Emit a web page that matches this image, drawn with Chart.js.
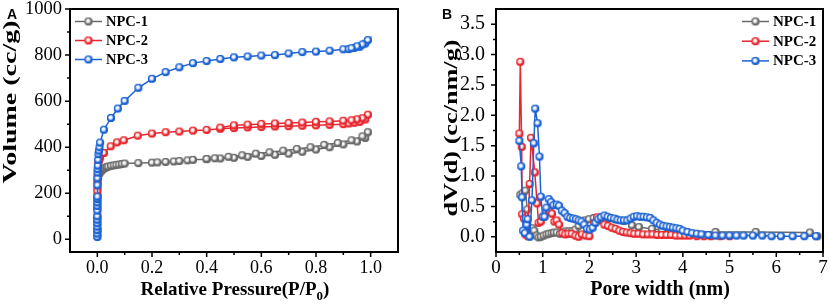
<!DOCTYPE html>
<html><head><meta charset="utf-8">
<script src="https://cdn.jsdelivr.net/npm/chart.js@4/dist/chart.umd.min.js"></script>
<style>
html,body{margin:0;padding:0;background:#fff;}
#wrap{position:relative;width:830px;height:304px;overflow:hidden;}
.box{position:absolute;top:0;width:415px;height:304px;}
canvas{display:block;}
</style></head><body>
<div id="wrap">
<div class="box" style="left:0"><canvas id="cA" width="415" height="304"></canvas></div>
<div class="box" style="left:415px"><canvas id="cB" width="415" height="304"></canvas></div>
</div>
<script>
// ---------------- DATA ----------------
const seriesNames = ['NPC-1', 'NPC-2', 'NPC-3'];

// Panel A: N2 isotherms, P/P0 vs volume (cc/g), adsorption then desorption
const isoP1 = [0.00002,0.00005,0.0001,0.0002,0.0004,0.0007,0.001,0.002,0.003,0.005,0.007,0.01,0.013,0.016,0.02,0.025,0.03,0.035,0.04,0.05,0.06,0.07,0.08,0.09,0.1,0.15,0.2,0.22,0.25,0.28,0.3,0.33,0.35,0.4,0.45,0.5,0.55,0.6,0.65,0.7,0.75,0.8,0.85,0.9,0.95,0.98,0.99,
               0.97,0.93,0.88,0.83,0.78,0.73,0.68,0.63,0.58,0.53,0.48,0.43,0.4];
const isoV1 = [40,90,140,185,220,245,262,272,278,283,287,291,296,300,304,308,311,314,316,319,321,323,325,327,329,331,333,334,336,338,340,343,345,348,351,354,358,362,367,372,380,390,400,412,425,440,465,
               447,430,418,410,400,392,385,378,372,365,358,352,349];

const isoP2 = [0.000005,0.00001,0.00002,0.00004,0.00007,0.0001,0.0002,0.0003,0.0005,0.0008,0.001,0.0015,0.002,0.003,0.005,0.008,0.01,0.024,0.049,0.072,0.097,0.148,0.2,0.25,0.3,0.35,0.4,0.45,0.5,0.55,0.6,0.65,0.7,0.75,0.8,0.85,0.9,0.92,0.94,0.96,0.98,0.99,
               0.97,0.95,0.93,0.9,0.85,0.8,0.75,0.7,0.65,0.6,0.55,0.5,0.45];
const isoV2 = [15,40,70,100,130,160,190,210,235,255,275,295,315,330,340,350,357,375,404,421,430,450,459,465,468,472,475,480,483,486,488,490,491,493,495,497,500,503,506,510,520,541,
               526,521,517,515,512,510,507,505,503,501,498,495,485];

const isoP3 = [0.000003,0.000006,0.00001,0.00002,0.00003,0.00005,0.00008,0.0001,0.00015,0.0002,0.0003,0.0004,0.0006,0.0008,0.001,0.0015,0.002,0.003,0.004,0.006,0.008,0.01,0.024,0.05,0.075,0.1,0.15,0.2,0.25,0.3,0.35,0.4,0.45,0.5,0.55,0.6,0.65,0.7,0.75,0.8,0.85,0.9,0.92,0.94,0.96,0.98,0.99,
               0.97,0.95,0.93];
const isoV3 = [10,25,40,55,70,85,100,125,145,160,175,185,235,265,290,305,320,345,370,385,400,420,476,527,568,601,658,697,726,747,765,774,783,790,794,798,800,807,813,815,819,825,826,831,836,850,865,
               846,838,830];

// Panel B: pore size distribution, pore width (nm) vs dV(d) (cc/nm/g)
const psdW1 = [0.52,0.57,0.63,0.67,0.7,0.74,0.78,0.82,0.87,0.91,0.96,1.02,1.08,1.13,1.19,1.24,1.3,1.37,1.43,1.49,1.56,1.63,1.7,1.77,1.84,1.9,1.99,2.09,2.24,2.4,2.56,2.74,2.91,3.06,3.34,3.56,4.7,5.56,6.72,6.88];
const psdV1 = [0.69,0.72,0.76,0.45,0.15,0.12,0.14,0.10,0.02,-0.01,0.0,0.02,0.04,0.05,0.06,0.07,0.07,0.05,0.07,0.09,0.09,0.09,0.12,0.18,0.24,0.27,0.29,0.31,0.32,0.31,0.29,0.26,0.19,0.16,0.13,0.11,0.08,0.08,0.07,0.01];

const psdW2 = [0.5,0.52,0.55,0.56,0.6,0.63,0.68,0.72,0.75,0.83,0.88,0.91,0.96,1.02,1.08,1.14,1.2,1.25,1.3,1.35,1.42,1.48,1.55,1.62,1.7,1.77,1.84,1.92,2.0,2.1,2.16,2.24,2.32,2.4,2.48,2.56,2.64,2.72,2.8,2.88,2.96,3.05,3.15,3.25,3.35,3.45,3.55,3.65,3.75,3.85,3.95,4.05,4.15,4.3,4.45,4.6,4.8,5.0];
const psdV2 = [1.70,2.88,1.48,0.37,0.30,0.04,0.01,0.87,1.63,1.06,0.55,0.23,0.25,0.33,0.40,0.43,0.38,0.25,0.27,0.20,0.06,0.04,0.05,0.05,0.02,0.0,0.04,0.02,0.01,0.22,0.32,0.27,0.20,0.18,0.15,0.13,0.10,0.08,0.07,0.06,0.05,0.05,0.04,0.04,0.04,0.03,0.03,0.03,0.03,0.02,0.02,0.02,0.02,0.01,0.01,0.01,0.01,0.01];

const psdW3 = [0.5,0.54,0.56,0.58,0.62,0.66,0.68,0.72,0.77,0.81,0.84,0.89,0.93,0.96,1.0,1.04,1.08,1.13,1.18,1.23,1.3,1.35,1.41,1.47,1.53,1.59,1.65,1.71,1.77,1.83,1.89,1.95,2.01,2.07,2.13,2.19,2.25,2.32,2.39,2.46,2.53,2.6,2.67,2.74,2.81,2.88,2.95,3.02,3.09,3.16,3.23,3.3,3.37,3.44,3.51,3.58,3.65,3.72,3.79,3.86,3.93,4.0,4.1,4.2,4.3,4.4,4.55,4.7,4.85,5.0,5.15,5.3,5.5,5.7,5.9,6.1,6.35,6.6,6.85];
const psdV3 = [1.58,1.16,0.65,0.10,0.06,0.20,0.29,0.0,0.60,1.54,2.11,1.87,1.32,0.66,0.33,0.33,0.48,0.62,0.57,0.52,0.53,0.51,0.43,0.39,0.33,0.31,0.30,0.29,0.27,0.25,0.20,0.13,0.12,0.15,0.23,0.29,0.32,0.35,0.33,0.31,0.30,0.28,0.27,0.27,0.27,0.30,0.33,0.34,0.33,0.33,0.32,0.31,0.27,0.23,0.20,0.18,0.17,0.16,0.15,0.14,0.13,0.10,0.08,0.06,0.05,0.04,0.03,0.02,0.02,0.02,0.02,0.02,0.02,0.02,0.01,0.01,0.01,0.01,0.01];

// tick values
const aXTicks = [0, 0.2, 0.4, 0.6, 0.8, 1.0];
const aXMinor = [0.1, 0.3, 0.5, 0.7, 0.9];
const aYTicks = [0, 200, 400, 600, 800, 1000];
const aYMinor = [100, 300, 500, 700, 900];
const bXTicks = [0, 1, 2, 3, 4, 5, 6, 7];
const bXMinor = [0.5, 1.5, 2.5, 3.5, 4.5, 5.5, 6.5];
const bYTicks = [0, 0.5, 1.0, 1.5, 2.0, 2.5, 3.0, 3.5];
const bYMinor = [0.25, 0.75, 1.25, 1.75, 2.25, 2.75, 3.25];

// ---------------- STYLE ----------------
const COLORS = ['#6a6a6a', '#e8262d', '#1b62d4'];
const SERIF = '"Liberation Serif", "Times New Roman", serif';

function ball(color, r) {
  const s = Math.ceil(2 * r + 2);
  const c = document.createElement('canvas');
  c.width = s; c.height = s;
  const g = c.getContext('2d');
  const cx = s / 2, cy = s / 2;
  g.beginPath(); g.arc(cx, cy, r, 0, Math.PI * 2); g.fillStyle = color; g.fill();
  const grd = g.createRadialGradient(cx - 0.5, cy - 0.6, 0, cx - 0.5, cy - 0.6, r * 0.8);
  grd.addColorStop(0, 'rgba(255,255,255,1)');
  grd.addColorStop(0.45, 'rgba(255,255,255,0.9)');
  grd.addColorStop(1, 'rgba(255,255,255,0)');
  g.fillStyle = grd; g.beginPath(); g.arc(cx, cy, r, 0, Math.PI * 2); g.fill();
  g.lineWidth = 1.1; g.strokeStyle = color; g.beginPath(); g.arc(cx, cy, r - 0.55, 0, Math.PI * 2); g.stroke();
  return c;
}
const BALLS = COLORS.map(c => ball(c, 4));

function pts(xs, ys) { return xs.map((v, i) => ({ x: v, y: ys[i] })); }

const framePlugin = {
  id: 'frame',
  afterDraw(chart) {
    const o = chart.options.plugins.frame;
    const { ctx, chartArea: a, scales: { x, y } } = chart;
    ctx.save();
    ctx.strokeStyle = '#000';
    ctx.lineWidth = 1.5;
    ctx.beginPath();
    o.xMajor.forEach(v => { const p = x.getPixelForValue(v); ctx.moveTo(p, a.bottom); ctx.lineTo(p, a.bottom + 5); });
    o.xMinor.forEach(v => { const p = x.getPixelForValue(v); ctx.moveTo(p, a.bottom); ctx.lineTo(p, a.bottom + 3); });
    o.yMajor.forEach(v => { const p = y.getPixelForValue(v); ctx.moveTo(a.left, p); ctx.lineTo(a.left - 5, p); });
    o.yMinor.forEach(v => { const p = y.getPixelForValue(v); ctx.moveTo(a.left, p); ctx.lineTo(a.left - 3, p); });
    ctx.stroke();
    ctx.lineWidth = 2;
    ctx.strokeRect(a.left, a.top, a.right - a.left, a.bottom - a.top);

    // legend
    const L = o.legend;
    chart.data.datasets.forEach((ds, i) => {
      const yy = L.y0 + i * L.dy;
      ctx.strokeStyle = ds.borderColor; ctx.lineWidth = 1.5;
      ctx.beginPath(); ctx.moveTo(L.x, yy); ctx.lineTo(L.x + L.len, yy); ctx.stroke();
      const img = ds.pointStyle;
      ctx.drawImage(img, L.x + L.len / 2 - img.width / 2, yy - img.height / 2);
      ctx.fillStyle = '#000'; ctx.font = L.font; ctx.textBaseline = 'middle'; ctx.textAlign = 'left';
      ctx.fillText(ds.label, L.x + L.len + L.gap, yy + 0.5);
    });

    // x title with optional subscript parts
    const T = o.xTitle;
    ctx.fillStyle = '#000'; ctx.textBaseline = 'alphabetic'; ctx.textAlign = 'left';
    let total = 0;
    T.parts.forEach(p => { ctx.font = p.sub ? T.subFont : T.font; total += ctx.measureText(p.t).width; });
    let cx = T.cx - total / 2;
    T.parts.forEach(p => {
      ctx.font = p.sub ? T.subFont : T.font;
      ctx.fillText(p.t, cx, T.base + (p.sub ? T.subDrop : 0));
      cx += ctx.measureText(p.t).width;
    });

    // y title (rotated, stretched along its length)
    const Y = o.yTitle;
    ctx.save();
    ctx.translate(Y.cx, Y.cy);
    ctx.rotate(-Math.PI / 2);
    ctx.font = Y.font;
    const w = ctx.measureText(Y.text).width;
    ctx.scale(Y.len / w, 1);
    ctx.textAlign = 'center'; ctx.textBaseline = 'middle';
    ctx.fillText(Y.text, 0, 0);
    ctx.restore();

    // panel letter
    ctx.font = o.panel.font; ctx.textAlign = 'left'; ctx.textBaseline = 'alphabetic';
    ctx.fillText(o.panel.text, o.panel.x, o.panel.y);
    ctx.restore();
  }
};

function makeChart(id, cfg) {
  return new Chart(document.getElementById(id), {
    type: 'scatter',
    data: {
      datasets: cfg.series.map((s, i) => ({
        label: seriesNames[i],
        data: pts(s[0], s[1]),
        showLine: true,
        borderColor: COLORS[i],
        backgroundColor: COLORS[i],
        borderWidth: 1.5,
        pointStyle: BALLS[i],
        pointRadius: 4,
        pointHoverRadius: 4,
        order: 3 - i,
        tension: 0
      }))
    },
    options: {
      responsive: false, animation: false, devicePixelRatio: 1,
      events: [],
      layout: { padding: cfg.padding },
      plugins: {
        legend: { display: false }, tooltip: { enabled: false },
        frame: cfg.frame
      },
      scales: {
        x: {
          type: 'linear', min: cfg.xMin, max: cfg.xMax,
          afterBuildTicks: s => { s.ticks = cfg.frame.xMajor.map(v => ({ value: v })); },
          afterFit: s => { s.height = cfg.xH; s.paddingLeft = 0; s.paddingRight = 0; },
          grid: { display: false, drawTicks: true, tickLength: 4 },
          border: { display: false },
          ticks: { padding: cfg.xPad, color: '#000', autoSkip: false, maxRotation: 0,
                   font: { family: SERIF, size: cfg.xTickSize, lineHeight: 1 },
                   callback: v => cfg.xFmt(v) }
        },
        y: {
          type: 'linear', min: cfg.yMin, max: cfg.yMax,
          afterBuildTicks: s => { s.ticks = cfg.frame.yMajor.map(v => ({ value: v })); },
          afterFit: s => { s.width = cfg.yW; s.paddingTop = 0; s.paddingBottom = 0; },
          grid: { display: false, drawTicks: true, tickLength: 4 },
          border: { display: false },
          ticks: { padding: cfg.yPad, color: '#000', autoSkip: false,
                   font: { family: SERIF, size: cfg.yTickSize, lineHeight: 1 },
                   callback: v => cfg.yFmt(v) }
        }
      }
    },
    plugins: [framePlugin]
  });
}

makeChart('cA', {
  series: [[isoP1, isoV1], [isoP2, isoV2], [isoP3, isoV3]],
  padding: { left: 0, top: 9, right: 17, bottom: 0 },
  xMin: -0.1, xMax: 1.1, yMin: -55, yMax: 1000,
  xH: 52, yW: 70, xPad: 3, yPad: 4, xTickSize: 18, yTickSize: 18.5,
  xFmt: v => v.toFixed(1), yFmt: v => String(v),
  frame: {
    xMajor: aXTicks, xMinor: aXMinor, yMajor: aYTicks, yMinor: aYMinor,
    legend: { x: 75, y0: 21.5, dy: 19, len: 27, gap: 4, font: 'bold 14.5px ' + SERIF },
    xTitle: { parts: [{ t: 'Relative Pressure(P/P' }, { t: '0', sub: true }, { t: ')' }],
              cx: 235, base: 295, font: 'bold 19px ' + SERIF, subFont: 'bold 13px ' + SERIF, subDrop: 5 },
    yTitle: { text: 'Volume (cc/g)', cx: 11, cy: 102, len: 163, font: 'bold 18px ' + SERIF },
    panel: { text: 'A', x: 7, y: 18.5, font: 'bold 14px "Liberation Sans", Arial, sans-serif' }
  }
});

makeChart('cB', {
  series: [[psdW1, psdV1], [psdW2, psdV2], [psdW3, psdV3]],
  padding: { left: 0, top: 9, right: 7, bottom: 0 },
  xMin: 0, xMax: 7, yMin: -0.25, yMax: 3.75,
  xH: 52, yW: 81, xPad: 3, yPad: 7, xTickSize: 19, yTickSize: 20,
  xFmt: v => String(v), yFmt: v => v.toFixed(1),
  frame: {
    xMajor: bXTicks, xMinor: bXMinor, yMajor: bYTicks, yMinor: bYMinor,
    legend: { x: 327, y0: 21.5, dy: 19.7, len: 27, gap: 4, font: 'bold 15px ' + SERIF },
    xTitle: { parts: [{ t: 'Pore width (nm)' }], cx: 245, base: 295, font: 'bold 20px ' + SERIF, subFont: 'bold 13px ' + SERIF, subDrop: 0 },
    yTitle: { text: 'dV(d) (cc/nm/g)', cx: 37.5, cy: 128, len: 177, font: 'bold 18px ' + SERIF },
    panel: { text: 'B', x: 27, y: 18.5, font: 'bold 14px "Liberation Sans", Arial, sans-serif' }
  }
});
</script>
</body></html>
